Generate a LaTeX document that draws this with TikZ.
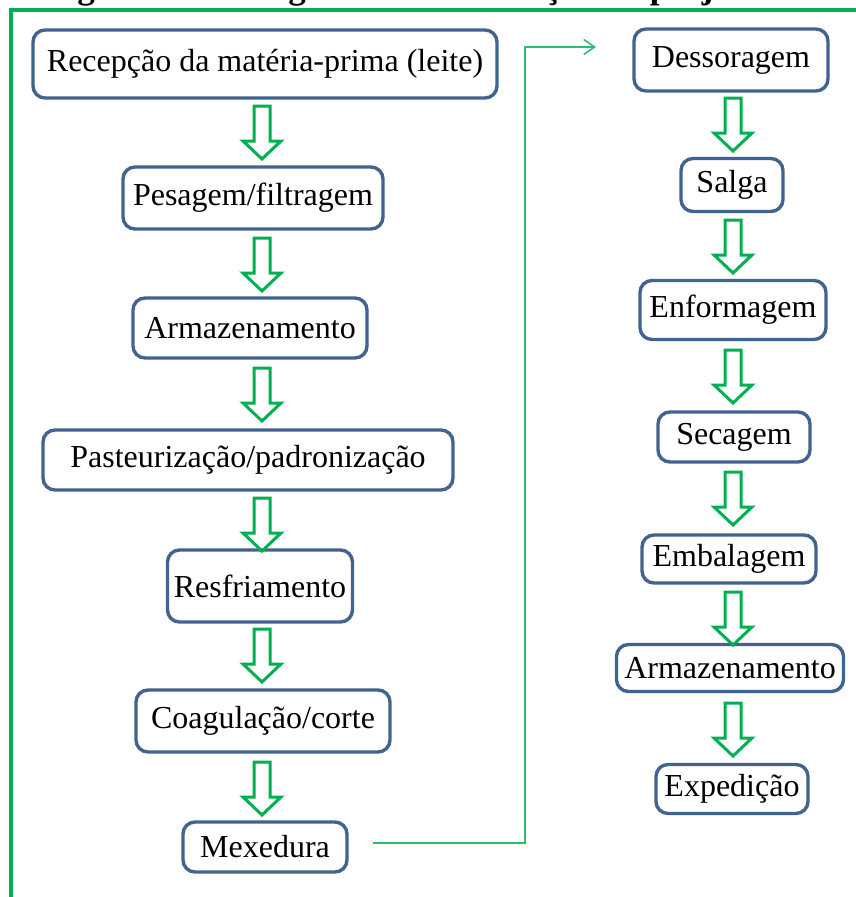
\documentclass[tikz,border=0pt]{standalone}
\usepackage{fontspec}
\setmainfont{Liberation Serif}
\usetikzlibrary{arrows.meta}
\definecolor{boxblue}{HTML}{41638F}
\definecolor{arrgreen}{HTML}{00B050}
\definecolor{linkgreen}{HTML}{2DBE6C}
\begin{document}
\begin{tikzpicture}[x=1pt,y=-1pt,
  stagebox/.style={draw=boxblue, line width=3.4pt, rounded corners=12pt, fill=white,
    inner sep=0pt, font=\fontsize{32}{38}\selectfont, text=black},
  frameline/.style={draw=arrgreen, line width=3.8pt},
  flow/.style={draw=linkgreen, line width=1.5pt, -{Straight Barb[length=11pt,width=15pt]}},
  hollowarrow/.style={draw=arrgreen, line width=3pt, line join=miter}
]
\useasboundingbox (0,0) rectangle (856,897);

% caption line, cut by the top edge
\begin{scope}
  \clip (0,0) rectangle (856,897);
  \node[anchor=base west, inner sep=0pt, font=\bfseries\fontsize{35}{40}\selectfont]
    (caption) at (46,-2) {Figura 1 - Fluxograma de fabricação do projeto};
\end{scope}

% frame
\draw[frameline] (11,897) -- (11,10) -- (856,10);

% left column
\node[stagebox, minimum width=464pt, minimum height=68pt] (L1) at (265,64) {Recepção da matéria-prima (leite)};
\node[stagebox, minimum width=260pt, minimum height=62pt] (L2) at (253,198) {Pesagem/filtragem};
\node[stagebox, minimum width=234pt, minimum height=60pt] (L3) at (250,328) {Armazenamento};
\node[stagebox, minimum width=410pt, minimum height=60pt] (L4) at (248,460) {Pasteurização/padronização};
\node[stagebox, minimum width=185pt, minimum height=72pt] (L5) at (260,586) {Resfriamento};
\node[stagebox, minimum width=254pt, minimum height=62pt] (L6) at (263,721) {Coagulação/corte};
\node[stagebox, minimum width=164pt, minimum height=50pt] (L7) at (265,847) {Mexedura};

% right column
\node[stagebox, minimum width=194pt, minimum height=62pt] (R1) at (731,60) {Dessoragem};
\node[stagebox, minimum width=102pt, minimum height=53pt] (R2) at (732,185) {Salga};
\node[stagebox, minimum width=186pt, minimum height=59pt] (R3) at (733,310) {Enformagem};
\node[stagebox, minimum width=152pt, minimum height=50pt] (R4) at (734,437) {Secagem};
\node[stagebox, minimum width=174pt, minimum height=48pt] (R5) at (729,559) {Embalagem};
\node[stagebox, minimum width=227pt, minimum height=47pt] (R6) at (730,668) {Armazenamento};
\node[stagebox, minimum width=152pt, minimum height=49pt] (R7) at (732,789) {Expedição};

% hollow arrows between stages: #1 = centre x, #2 = top y
\newcommand\stagearrow[2]{%
  \draw[hollowarrow]
    (#1-8,#2) -- (#1-8,#2+35) -- (#1-19,#2+35) -- (#1,#2+53)
    -- (#1+19,#2+35) -- (#1+8,#2+35) -- (#1+8,#2) -- cycle;}
\foreach \ytop in {106,238,368,498,629,762}
  {\stagearrow{262}{\ytop}}
\foreach \ytop in {98,220,350,472,592,703}
  {\stagearrow{733}{\ytop}}

% link from the end of the left column to the top of the right one
\coordinate (linkstart) at (373,843);
\coordinate (linkturn) at (525,47);
\coordinate (linkend) at (596,47);
\draw[flow] (linkstart) -| (linkturn) -- (linkend);
\end{tikzpicture}
\end{document}
